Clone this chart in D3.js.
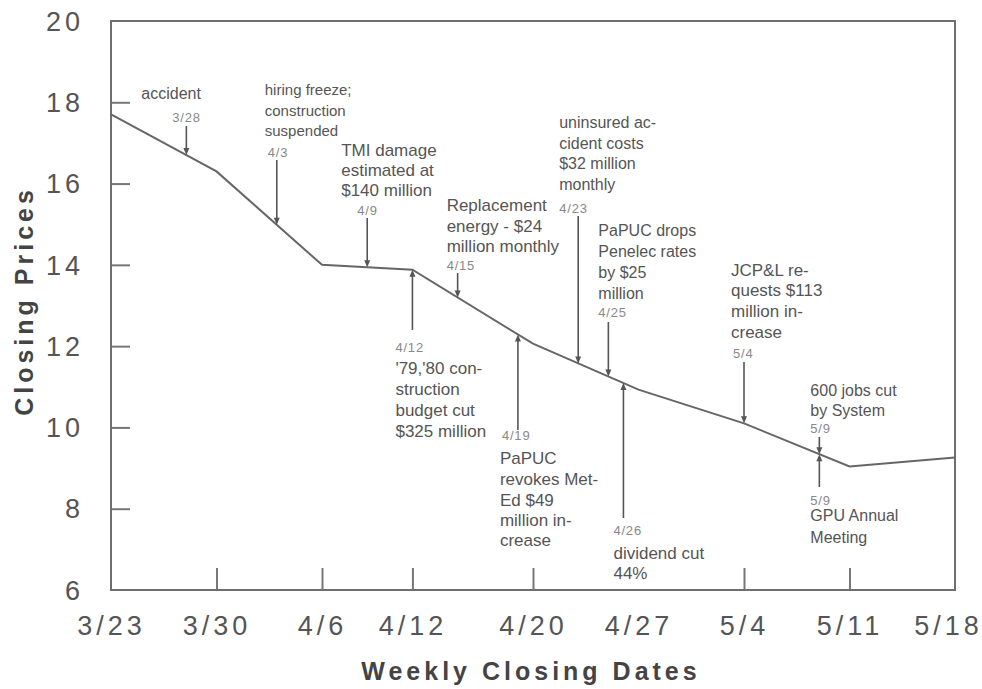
<!DOCTYPE html>
<html>
<head>
<meta charset="utf-8">
<script src="https://cdn.jsdelivr.net/npm/d3@7"></script>
<style>
  body { margin: 0; background: #fff; }
  .tickText { font-family: "Liberation Sans", Arial, sans-serif; font-size: 27px; fill: #555; letter-spacing: 4px; }
  .axisTitle { font-family: "Liberation Sans", Arial, sans-serif; font-size: 25px; font-weight: bold; fill: #444; letter-spacing: 4px; }
  .ann { font-family: "Liberation Sans", Arial, sans-serif; font-size: 17px; fill: #555; }
  .annDate { font-family: "Liberation Sans", Arial, sans-serif; font-size: 13px; fill: #888; letter-spacing: 0.8px; }
</style>
</head>
<body>
<div id="chart"></div>
<script>
// weekly closing prices, spring 1979
var weekDates = ["3/23", "3/30", "4/6", "4/12", "4/20", "4/27", "5/4", "5/11", "5/18"];
var closingPrices = [17.7, 16.3, 14.0, 13.88, 12.06, 10.93, 10.1, 9.04, 9.26];
var priceTicks = [6, 8, 10, 12, 14, 16, 18, 20];

// events marked on the line
var eventDates = ["3/28", "4/3", "4/9", "4/15", "4/23", "4/25", "4/12", "4/19", "4/26", "5/4", "5/9", "5/9"];
var eventTexts = [
  ["accident"],
  ["hiring freeze;", "construction", "suspended"],
  ["TMI damage", "estimated at", "$140 million"],
  ["Replacement", "energy - $24", "million monthly"],
  ["uninsured ac-", "cident costs", "$32 million", "monthly"],
  ["PaPUC drops", "Penelec rates", "by $25", "million"],
  ["'79,'80 con-", "struction", "budget cut", "$325 million"],
  ["PaPUC", "revokes Met-", "Ed $49", "million in-", "crease"],
  ["dividend cut", "44%"],
  ["JCP&L re-", "quests $113", "million in-", "crease"],
  ["600 jobs cut", "by System"],
  ["GPU Annual", "Meeting"]
];

// layout of each note: text offset from arrow, line centres, date label, arrow tail, font size
var eventLayout = [
  { dx: -45, lines: [93], dateDx: -14, dateY: 117, tail: 126, fs: 16 },
  { dx: -12, lines: [90, 111, 131], dateDx: -9, dateY: 152, tail: 160, fs: 15 },
  { dx: -26, lines: [150, 170, 190], dateDx: -10, dateY: 210, tail: 218, fs: 17 },
  { dx: -11, lines: [205, 226, 246], dateDx: -11, dateY: 265, tail: 273, fs: 17 },
  { dx: -19, lines: [122, 143, 163, 184], dateDx: -19, dateY: 208, tail: 216, fs: 16 },
  { dx: -10, lines: [230, 251, 272, 293], dateDx: -10, dateY: 312, tail: 322, fs: 16 },
  { dx: -17, lines: [368, 389, 410, 431], dateDx: -17, dateY: 347, tail: 330, fs: 17 },
  { dx: -18, lines: [458, 479, 500, 520, 540], dateDx: -16, dateY: 435, tail: 430, fs: 17 },
  { dx: -10, lines: [553, 573], dateDx: -10, dateY: 530, tail: 518, fs: 17 },
  { dx: -13, lines: [270, 290, 311, 332], dateDx: -11, dateY: 353, tail: 362, fs: 17 },
  { dx: -9, lines: [390, 410], dateDx: -9, dateY: 428, tail: 437, fs: 16 },
  { dx: -9, lines: [515, 537], dateDx: -9, dateY: 500, tail: 487, fs: 16 }
];

function parseDay(s) {
  var p = s.split("/");
  return new Date(1979, +p[0] - 1, +p[1]);
}

var svgWidth = 982, svgHeight = 689;
var margin = { top: 21, right: 27, bottom: 99, left: 111 };
var width = svgWidth - margin.left - margin.right;
var height = svgHeight - margin.top - margin.bottom;

var svg = d3.select("#chart").append("svg")
  .attr("width", svgWidth)
  .attr("height", svgHeight);

var chartGroup = svg.append("g")
  .attr("transform", `translate(${margin.left}, ${margin.top})`);

var weekData = weekDates.map(function(d, i) {
  return { date: parseDay(d), price: closingPrices[i] };
});

var xScale = d3.scaleTime()
  .domain([weekData[0].date, weekData[weekData.length - 1].date])
  .range([0, width]);

var yScale = d3.scaleLinear()
  .domain([6, 20])
  .range([height, 0]);

// x axis, ticks point inward
var bottomAxis = d3.axisBottom(xScale)
  .tickValues(weekData.map(d => d.date))
  .tickFormat((d, i) => weekDates[i])
  .tickSizeInner(-22)
  .tickSizeOuter(0)
  .tickPadding(26);

var xAxis = chartGroup.append("g")
  .attr("transform", `translate(0, ${height})`)
  .call(bottomAxis);
xAxis.select(".domain").remove();
xAxis.selectAll(".tick line")
  .attr("stroke", "#777")
  .attr("stroke-width", 2)
  .filter((d, i) => i === 0 || i === weekDates.length - 1 || weekDates[i] === "4/27")
  .remove();
xAxis.selectAll(".tick text")
  .attr("class", "tickText")
  .attr("fill", null)
  .attr("dx", (d, i) => i === weekDates.length - 1 ? -7 : 0);

// y axis
var leftAxis = d3.axisLeft(yScale)
  .tickValues(priceTicks)
  .tickSizeInner(-19)
  .tickSizeOuter(0)
  .tickPadding(27);

var yAxis = chartGroup.append("g").call(leftAxis);
yAxis.select(".domain").remove();
yAxis.selectAll(".tick line")
  .attr("stroke", "#777")
  .attr("stroke-width", 2)
  .filter(d => d === 6 || d === 20)
  .remove();
yAxis.selectAll(".tick text").attr("class", "tickText").attr("fill", null).attr("dy", "0.34em");

// frame
chartGroup.append("rect")
  .attr("width", width)
  .attr("height", height)
  .attr("fill", "none")
  .attr("stroke", "#6f6f6f")
  .attr("stroke-width", 2);

// price line
var line = d3.line()
  .x(d => xScale(d.date))
  .y(d => yScale(d.price));

chartGroup.append("path")
  .datum(weekData)
  .attr("fill", "none")
  .attr("stroke", "#666")
  .attr("stroke-width", 2)
  .attr("d", line);

// price on the line at any day
var bisect = d3.bisector(d => d.date).right;
function priceAt(date) {
  var i = Math.min(Math.max(bisect(weekData, date), 1), weekData.length - 1);
  var a = weekData[i - 1], b = weekData[i];
  var t = (date - a.date) / (b.date - a.date);
  return a.price + t * (b.price - a.price);
}

// annotations
var noteGroup = chartGroup.append("g");
eventDates.forEach(function(ds, i) {
  var lay = eventLayout[i];
  var date = parseDay(ds);
  var ax = xScale(date);
  var tip = yScale(priceAt(date));
  var tail = lay.tail - margin.top;
  var dir = tail < tip ? 1 : -1;   // 1 = arrow points down
  var g = noteGroup.append("g");

  g.append("line")
    .attr("x1", ax).attr("x2", ax)
    .attr("y1", tail).attr("y2", tip - dir * 3)
    .attr("stroke", "#555")
    .attr("stroke-width", 1.6);

  g.append("path")
    .attr("d", `M${ax - 3},${tip - dir * 7} L${ax},${tip} L${ax + 3},${tip - dir * 7} Z`)
    .attr("fill", "#555");

  g.append("text")
    .attr("class", "annDate")
    .attr("x", ax + lay.dateDx)
    .attr("y", lay.dateY - margin.top)
    .attr("dy", "0.35em")
    .text(ds);

  g.selectAll("text.ann")
    .data(eventTexts[i])
    .enter()
    .append("text")
    .attr("class", "ann")
    .attr("x", ax + lay.dx)
    .attr("y", (d, k) => lay.lines[k] - margin.top)
    .attr("dy", "0.35em")
    .style("font-size", lay.fs + "px")
    .text(d => d);
});

// axis titles
svg.append("text")
  .attr("class", "axisTitle")
  .attr("transform", "translate(33, 301) rotate(-90)")
  .attr("text-anchor", "middle")
  .text("Closing Prices");

svg.append("text")
  .attr("class", "axisTitle")
  .attr("x", 531)
  .attr("y", 680)
  .attr("text-anchor", "middle")
  .text("Weekly Closing Dates");
</script>
</body>
</html>
